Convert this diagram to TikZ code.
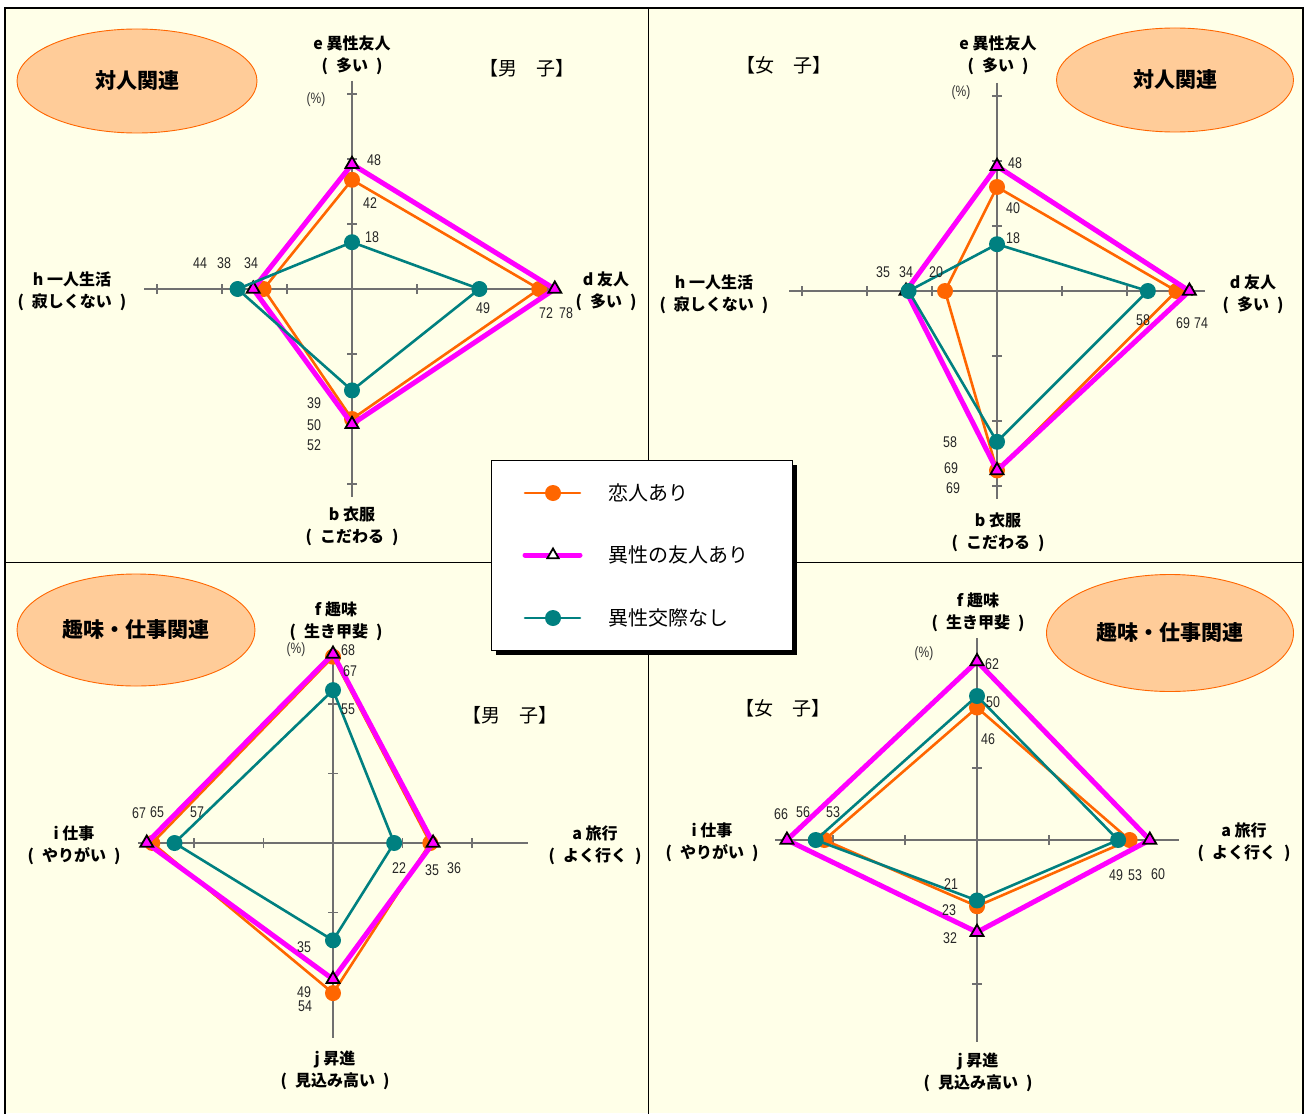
\documentclass[tikz,border=0pt]{standalone}
\usepackage{fontspec}
\setmainfont{Noto Sans CJK JP}
\newfontfamily\numfont[FakeStretch=0.8]{Liberation Sans}
\usetikzlibrary{shapes.geometric,shadows}
\definecolor{lovecol}{HTML}{FF6600}
\definecolor{friendcol}{HTML}{FF00FF}
\definecolor{nonecol}{HTML}{008080}
\definecolor{peach}{HTML}{FFCC99}
\definecolor{paper}{HTML}{FFFFE8}
\definecolor{axisgray}{HTML}{707070}
\newcommand{\kakko}[1]{(\enspace#1\enspace)}

\begin{document}
\begin{tikzpicture}[
		x=1pt, y=-1pt,
		axisline/.style={draw=axisgray, line width=1.3pt},
		loveline/.style={draw=lovecol, line width=2.6pt},
		friendline/.style={draw=friendcol, line width=5pt},
		noneline/.style={draw=nonecol, line width=2.6pt},
		lovedot/.style={circle, fill=lovecol, inner sep=0pt, minimum size=16pt},
		nonedot/.style={circle, fill=nonecol, inner sep=0pt, minimum size=16pt},
		friendtri/.style={regular polygon, regular polygon sides=3, draw=black, fill=friendcol, line width=1.8pt, inner sep=0pt, minimum size=15pt},
		legtri/.style={friendtri, fill=white, minimum size=13pt},
		axlabel/.style={font=\bfseries\fontsize{16}{22}\selectfont, align=center, inner sep=0pt},
		vallabel/.style={font=\numfont\fontsize{15.5}{15.5}\selectfont, text=black!85, inner sep=0pt},
		pctlabel/.style={font=\numfont\fontsize{15}{15}\selectfont, text=black!80, inner sep=0pt},
		sexlabel/.style={font=\fontsize{19}{19}\selectfont, inner sep=0pt},
		catoval/.style={ellipse, draw=lovecol, fill=peach, line width=0.9pt, inner sep=0pt, font=\bfseries\fontsize{21}{21}\selectfont},
		legendtext/.style={font=\fontsize{20}{20}\selectfont, anchor=west, inner sep=0pt}
	]
	\useasboundingbox (0,0) rectangle (1305,1113);
	\fill[paper] (5,8) rectangle (1303,1113);
	\draw[line width=1.2pt] (5,1115) |- (1303,8) -- (1303,1115);
	\draw[line width=1pt] (648,8) -- (648,1115) (5,562) -- (1303,562);

	% male, personal
	\begin{scope}[shift={(352,289)}, x=2.6pt, y=-2.6pt]
		\draw[axisline] (0,-80) -- (0,80) (-80,0) -- (80,0);
		\foreach \tk in {-75,-50,-25,25,50,75}
			\draw[axisline] (0,\tk) ++(-5pt,0) -- ++(10pt,0) (\tk,0) ++(0,-5pt) -- ++(0,10pt);
		\foreach \s/\va/\vb/\vc/\vd in {O/42/72/50/34, M/48/78/52/38, T/18/49/39/44} {
			\coordinate (mp\s1) at (0,-\va);
			\coordinate (mp\s2) at (\vb,0);
			\coordinate (mp\s3) at (0,\vc);
			\coordinate (mp\s4) at (-\vd,0);
		}
		\foreach \s/\lsty/\msty in {O/loveline/lovedot, M/friendline/friendtri, T/noneline/nonedot} {
			\draw[\lsty] (mp\s1) -- (mp\s2) -- (mp\s3) -- (mp\s4) -- cycle;
			\foreach \ix in {1,...,4} \node[\msty] (mp\s\ix mk) at (mp\s\ix) {};
		}
	\end{scope}
	\node[axlabel] (mpE) at (352,55) {e 異性友人\\\kakko{多い}};
	\node[axlabel] (mpD) at (606,291) {d 友人\\\kakko{多い}};
	\node[axlabel] (mpB) at (352,526) {b 衣服\\\kakko{こだわる}};
	\node[axlabel] (mpH) at (72,291) {h 一人生活\\\kakko{寂しくない}};
	\node[sexlabel] (mpSex) at (527,68) {【男　子】};
	\node[pctlabel] (mpPct) at (316,100) {(\%)};
	\node[catoval, minimum width=240pt, minimum height=104pt] (mpCat) at (137,81) {対人関連};
	\foreach \tx/\px/\py [count=\n] in {48/374/160, 42/370/203, 18/372/237, 44/200/263, 38/224/263, 34/251/263,
			49/483/308, 72/546/313, 78/566/313, 39/314/403, 50/314/425, 52/314/445}
		\node[vallabel] (mpv\n) at (\px,\py) {\tx};

	% female, personal
	\begin{scope}[shift={(997,291)}, x=2.6pt, y=-2.6pt]
		\draw[axisline] (0,-80) -- (0,80) (-80,0) -- (80,0);
		\foreach \tk in {-75,-50,-25,25,50,75}
			\draw[axisline] (0,\tk) ++(-5pt,0) -- ++(10pt,0) (\tk,0) ++(0,-5pt) -- ++(0,10pt);
		\foreach \s/\va/\vb/\vc/\vd in {O/40/69/69/20, M/48/74/69/35, T/18/58/58/34} {
			\coordinate (fp\s1) at (0,-\va);
			\coordinate (fp\s2) at (\vb,0);
			\coordinate (fp\s3) at (0,\vc);
			\coordinate (fp\s4) at (-\vd,0);
		}
		\foreach \s/\lsty/\msty in {O/loveline/lovedot, M/friendline/friendtri, T/noneline/nonedot} {
			\draw[\lsty] (fp\s1) -- (fp\s2) -- (fp\s3) -- (fp\s4) -- cycle;
			\foreach \ix in {1,...,4} \node[\msty] (fp\s\ix mk) at (fp\s\ix) {};
		}
	\end{scope}
	\node[axlabel] (fpE) at (998,55) {e 異性友人\\\kakko{多い}};
	\node[axlabel] (fpD) at (1253,294) {d 友人\\\kakko{多い}};
	\node[axlabel] (fpB) at (998,532) {b 衣服\\\kakko{こだわる}};
	\node[axlabel] (fpH) at (714,294) {h 一人生活\\\kakko{寂しくない}};
	\node[sexlabel] (fpSex) at (784,65) {【女　子】};
	\node[pctlabel] (fpPct) at (961,93) {(\%)};
	\node[catoval, minimum width=237pt, minimum height=104pt] (fpCat) at (1175,80) {対人関連};
	\foreach \tx/\px/\py [count=\n] in {48/1015/163, 40/1013/208, 18/1013/238, 35/883/272, 34/906/272, 20/936/272,
			58/1143/320, 69/1183/323, 74/1201/323, 58/950/442, 69/951/468, 69/953/488}
		\node[vallabel] (fpv\n) at (\px,\py) {\tx};

	% male, hobby and work
	\begin{scope}[shift={(333,843)}, x=2.78pt, y=-2.78pt]
		\draw[axisline] (0,-70) -- (0,70) (-70,0) -- (70,0);
		\foreach \tk in {-50,-25,25,50}
			\draw[axisline] (0,\tk) ++(-5pt,0) -- ++(10pt,0) (\tk,0) ++(0,-5pt) -- ++(0,10pt);
		\foreach \s/\va/\vb/\vc/\vd in {O/67/35/54/65, M/68/36/49/67, T/55/22/35/57} {
			\coordinate (mh\s1) at (0,-\va);
			\coordinate (mh\s2) at (\vb,0);
			\coordinate (mh\s3) at (0,\vc);
			\coordinate (mh\s4) at (-\vd,0);
		}
		\foreach \s/\lsty/\msty in {O/loveline/lovedot, M/friendline/friendtri, T/noneline/nonedot} {
			\draw[\lsty] (mh\s1) -- (mh\s2) -- (mh\s3) -- (mh\s4) -- cycle;
			\foreach \ix in {1,...,4} \node[\msty] (mh\s\ix mk) at (mh\s\ix) {};
		}
	\end{scope}
	\node[axlabel] (mhF) at (336,621) {f 趣味\\\kakko{生き甲斐}};
	\node[axlabel] (mhA) at (595,845) {a 旅行\\\kakko{よく行く}};
	\node[axlabel] (mhJ) at (335,1070) {j 昇進\\\kakko{見込み高い}};
	\node[axlabel] (mhI) at (74,845) {i 仕事\\\kakko{やりがい}};
	\node[sexlabel] (mhSex) at (510,715) {【男　子】};
	\node[pctlabel] (mhPct) at (296,650) {(\%)};
	\node[catoval, minimum width=238pt, minimum height=112pt] (mhCat) at (136,630) {趣味・仕事関連};
	\foreach \tx/\px/\py [count=\n] in {68/348/650, 67/350/671, 55/348/709, 67/139/813, 65/157/812, 57/197/812,
			22/399/868, 35/432/870, 36/454/868, 35/304/947, 49/304/992, 54/305/1006}
		\node[vallabel] (mhv\n) at (\px,\py) {\tx};

	% female, hobby and work
	\begin{scope}[shift={(977,840)}, x=2.88pt, y=-2.88pt]
		\draw[axisline] (0,-70) -- (0,70) (-70,0) -- (70,0);
		\foreach \tk in {-50,-25,25,50}
			\draw[axisline] (0,\tk) ++(-5pt,0) -- ++(10pt,0) (\tk,0) ++(0,-5pt) -- ++(0,10pt);
		\foreach \s/\va/\vb/\vc/\vd in {O/46/53/23/53, M/62/60/32/66, T/50/49/21/56} {
			\coordinate (fh\s1) at (0,-\va);
			\coordinate (fh\s2) at (\vb,0);
			\coordinate (fh\s3) at (0,\vc);
			\coordinate (fh\s4) at (-\vd,0);
		}
		\foreach \s/\lsty/\msty in {O/loveline/lovedot, M/friendline/friendtri, T/noneline/nonedot} {
			\draw[\lsty] (fh\s1) -- (fh\s2) -- (fh\s3) -- (fh\s4) -- cycle;
			\foreach \ix in {1,...,4} \node[\msty] (fh\s\ix mk) at (fh\s\ix) {};
		}
	\end{scope}
	\node[axlabel] (fhF) at (978,612) {f 趣味\\\kakko{生き甲斐}};
	\node[axlabel] (fhA) at (1244,842) {a 旅行\\\kakko{よく行く}};
	\node[axlabel] (fhJ) at (978,1072) {j 昇進\\\kakko{見込み高い}};
	\node[axlabel] (fhI) at (712,842) {i 仕事\\\kakko{やりがい}};
	\node[sexlabel] (fhSex) at (783,708) {【女　子】};
	\node[pctlabel] (fhPct) at (924,654) {(\%)};
	\node[catoval, minimum width=247pt, minimum height=117pt] (fhCat) at (1170,633) {趣味・仕事関連};
	\foreach \tx/\px/\py [count=\n] in {62/992/664, 50/993/702, 46/988/739, 66/781/814, 56/803/812, 53/833/812,
			49/1116/875, 53/1135/875, 60/1158/874, 21/951/884, 23/949/910, 32/950/938}
		\node[vallabel] (fhv\n) at (\px,\py) {\tx};

	% legend
	\node[draw=black, fill=white, line width=1pt, minimum width=301pt, minimum height=190pt,
		general shadow={fill=black, shadow xshift=5pt, shadow yshift=-5pt}] (legend) at (641.5,555) {};
	\foreach \y/\lsty/\msty/\tx [count=\n] in {493/loveline/lovedot/恋人あり, 555/friendline/legtri/異性の友人あり, 618/noneline/nonedot/異性交際なし} {
		\coordinate (legA\n) at (525,\y);
		\coordinate (legB\n) at (580,\y);
		\draw[\lsty, line cap=round] (legA\n) -- (legB\n);
		\node[\msty] (legM\n) at (553,\y) {};
		\node[legendtext] (legT\n) at (608,\y) {\tx};
	}
\end{tikzpicture}
\end{document}
